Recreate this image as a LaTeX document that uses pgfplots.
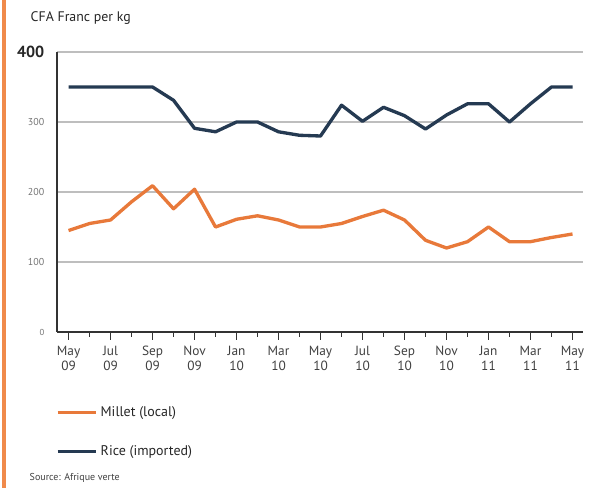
\documentclass[border=0pt]{standalone}
\usepackage{pgfplots}
\pgfplotsset{compat=1.18}
\usepackage{fontspec}
\setmainfont{PT Sans}
\definecolor{millet}{HTML}{E8793A}
\definecolor{rice}{HTML}{253A52}
\definecolor{gridgray}{HTML}{BEBEBE}
\definecolor{edge}{HTML}{F08A4B}
\begin{document}
\begin{tikzpicture}[x=0.75pt,y=0.75pt]
% page frame: 589 x 488 px, axis box lower-left at (57,332)
\path (-57,-156) rectangle (532,332);
\fill[edge] (-55,-156) rectangle (-51,332);
\node[anchor=west,font=\fontsize{10.4}{12}\selectfont,text=black!85] at (-31,314) {CFA Franc per kg};
\node[anchor=west,font=\fontsize{7.5}{9}\selectfont,text=black!75] at (-32,-146) {Source: Afrique verte};
\begin{axis}[
    name=ax, anchor=south west, at={(0,0)},
    scale only axis, width=394.5pt, height=210pt,
    xmin=-0.55, xmax=24.5, ymin=0, ymax=400,
    axis lines*=left,
    axis line style={line width=1.4pt, color=black!80},
    /pgf/number format/assume math mode=true,
    xtick={0,2,...,24},
    minor xtick={1,3,...,23},
    xticklabels={May\\09,Jul\\09,Sep\\09,Nov\\09,Jan\\10,Mar\\10,May\\10,Jul\\10,Sep\\10,Nov\\10,Jan\\11,Mar\\11,May\\11},
    xticklabel style={align=center, font=\fontsize{10}{11.5}\selectfont, text=black!75, yshift=-1pt},
    tick align=outside,
    major tick length=6pt, minor tick length=3.5pt,
    xtick style={line width=1.1pt, color=black!80},
    ytick={0,100,200,300,400},
    yticklabels={{\fontsize{6.5}{8}\selectfont 0},100,200,300,{\fontsize{12}{14}\selectfont\bfseries\color{black!85}400}},
    yticklabel style={font=\fontsize{7.5}{9}\selectfont, text=black!55},
    ytick style={draw=none},
    ymajorgrids,
    grid style={line width=2.2pt, color=gridgray},
    legend style={at={(-0.01,-0.245)}, anchor=north west, draw=none, fill=none,
        font=\fontsize{10.5}{12}\selectfont, row sep=16.5pt, text=black!85},
    legend cell align=left,
    legend image code/.code={\draw[#1, line width=2.5pt] (0pt,0pt) -- (29pt,0pt);},
]
\addplot[millet, line width=2.5pt, line join=round] coordinates {
(0,145) (1,155) (2,160) (3,186) (4,209) (5,176) (6,204) (7,150) (8,161) (9,166)
(10,160) (11,150) (12,150) (13,155) (14,165) (15,174) (16,160) (17,131) (18,120)
(19,129) (20,150) (21,129) (22,129) (23,135) (24,140)};
\addlegendentry{Millet (local)}
\addplot[rice, line width=2.5pt, line join=round] coordinates {
(0,350) (1,350) (2,350) (3,350) (4,350) (5,331) (6,291) (7,286) (8,300) (9,300)
(10,286) (11,281) (12,280) (13,324) (14,301) (15,321) (16,309) (17,290) (18,310)
(19,326) (20,326) (21,300) (22,326) (23,350) (24,350)};
\addlegendentry{Rice (imported)}
\end{axis}
\end{tikzpicture}
\end{document}
